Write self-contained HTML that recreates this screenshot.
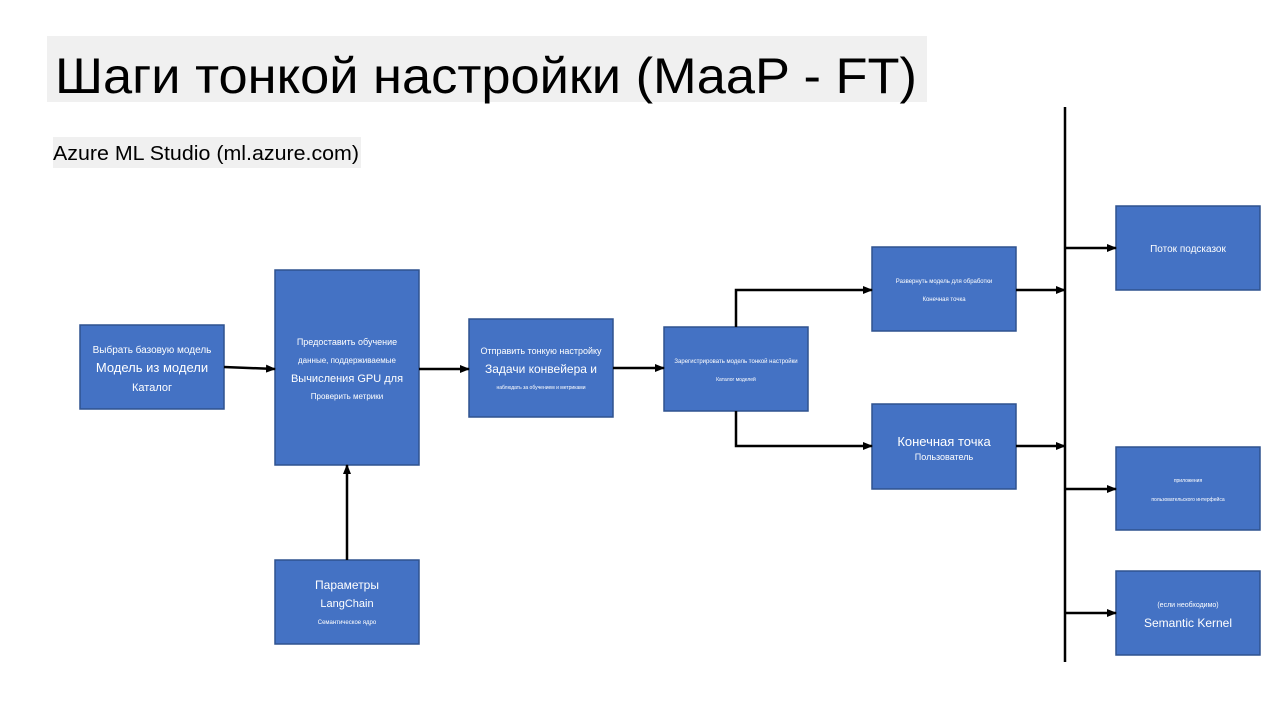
<!DOCTYPE html>
<html><head><meta charset="utf-8"><style>
html,body{margin:0;padding:0;background:#fff;}
svg{display:block;font-family:"Liberation Sans","DejaVu Sans",sans-serif;}
</style></head><body>
<svg width="1275" height="708" viewBox="0 0 1275 708" xmlns="http://www.w3.org/2000/svg">
<defs>
<marker id="a" markerWidth="10" markerHeight="8" refX="9" refY="4" orient="auto" markerUnits="userSpaceOnUse">
<path d="M0,0 L10,4 L0,8 z" fill="#000"/></marker>
</defs>
<rect x="47" y="36" width="880" height="66" fill="#f0f0f0"/>
<text x="55" y="93" font-size="50" textLength="862" lengthAdjust="spacingAndGlyphs">Шаги тонкой настройки (MaaP - FT)</text>
<rect x="53" y="137" width="308" height="31" fill="#f0f0f0"/>
<text x="53" y="160" font-size="20" textLength="306" lengthAdjust="spacingAndGlyphs">Azure ML Studio (ml.azure.com)</text>

<g fill="#4472C4" stroke="#2F528F" stroke-width="1.5">
<rect x="80" y="325" width="144" height="84"/>
<rect x="275" y="270" width="144" height="195"/>
<rect x="469" y="319" width="144" height="98"/>
<rect x="664" y="327" width="144" height="84"/>
<rect x="872" y="247" width="144" height="84"/>
<rect x="872" y="404" width="144" height="85"/>
<rect x="1116" y="206" width="144" height="84"/>
<rect x="1116" y="447" width="144" height="83"/>
<rect x="1116" y="571" width="144" height="84"/>
<rect x="275" y="560" width="144" height="84"/>
</g>

<g stroke="#000" stroke-width="2.5" fill="none">
<line x1="1065" y1="107" x2="1065" y2="662"/>
<line x1="224" y1="367" x2="275" y2="369" marker-end="url(#a)"/>
<line x1="419" y1="369" x2="469" y2="369" marker-end="url(#a)"/>
<line x1="613" y1="368" x2="664" y2="368" marker-end="url(#a)"/>
<line x1="347" y1="560" x2="347" y2="465" marker-end="url(#a)"/>
<polyline points="736,327 736,290 872,290" marker-end="url(#a)"/>
<polyline points="736,411 736,446 872,446" marker-end="url(#a)"/>
<line x1="1016" y1="290" x2="1065" y2="290" marker-end="url(#a)"/>
<line x1="1016" y1="446" x2="1065" y2="446" marker-end="url(#a)"/>
<line x1="1065" y1="248" x2="1116" y2="248" marker-end="url(#a)"/>
<line x1="1065" y1="489" x2="1116" y2="489" marker-end="url(#a)"/>
<line x1="1065" y1="613" x2="1116" y2="613" marker-end="url(#a)"/>
</g>

<g fill="#fff" text-anchor="middle">
<text x="152" y="353" font-size="10">Выбрать базовую модель</text>
<text x="152" y="372" font-size="13">Модель из модели</text>
<text x="152" y="391" font-size="11">Каталог</text>

<text x="347" y="345" font-size="9">Предоставить обучение</text>
<text x="347" y="363" font-size="8">данные, поддерживаемые</text>
<text x="347" y="382" font-size="11">Вычисления GPU для</text>
<text x="347" y="399" font-size="8">Проверить метрики</text>

<text x="541" y="354" font-size="9">Отправить тонкую настройку</text>
<text x="541" y="373" font-size="12">Задачи конвейера и</text>
<text x="541" y="389" font-size="5">наблюдать за обучением и метриками</text>

<text x="736" y="363" font-size="6">Зарегистрировать модель тонкой настройки</text>
<text x="736" y="381" font-size="5">Каталог моделей</text>

<text x="944" y="283" font-size="6">Развернуть модель для обработки</text>
<text x="944" y="301" font-size="6">Конечная точка</text>

<text x="944" y="446" font-size="13">Конечная точка</text>
<text x="944" y="460" font-size="9">Пользователь</text>

<text x="1188" y="252" font-size="10">Поток подсказок</text>

<text x="1188" y="482" font-size="5">приложения</text>
<text x="1188" y="501" font-size="5">пользовательского интерфейса</text>

<text x="1188" y="607" font-size="7">(если необходимо)</text>
<text x="1188" y="627" font-size="12">Semantic Kernel</text>

<text x="347" y="589" font-size="12">Параметры</text>
<text x="347" y="607" font-size="11">LangChain</text>
<text x="347" y="624" font-size="6">Семантическое ядро</text>
</g>
</svg>
</body></html>
